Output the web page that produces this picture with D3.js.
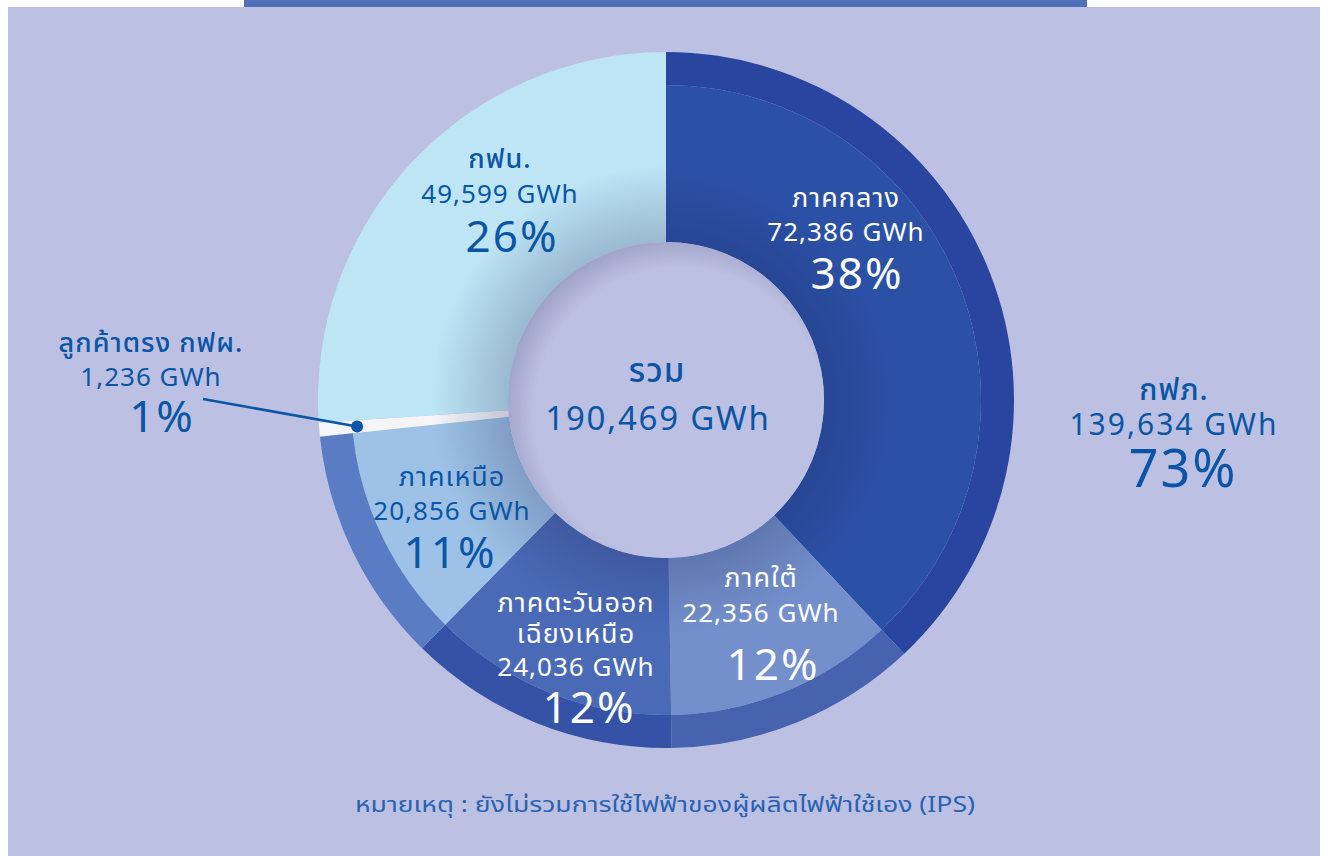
<!DOCTYPE html>
<html>
<head>
<meta charset="utf-8">
<script src="https://cdn.jsdelivr.net/npm/d3@7"></script>
<style>
  body { margin: 0; background: #ffffff; }
  text { font-family: "Noto Sans", "Noto Sans Thai", Tahoma, sans-serif; }
</style>
</head>
<body>
<script>
// data
var regions = ["ภาคกลาง", "ภาคใต้", "ภาคตะวันออกเฉียงเหนือ", "ภาคเหนือ", "ลูกค้าตรง กฟผ.", "กฟน."];
var gwh = [72386, 22356, 24036, 20856, 1236, 49599];
var pct = [38, 12, 12, 11, 1, 26];
var peaName = "กฟภ.", peaGwh = 139634, peaPct = 73;
var totalName = "รวม", totalGwh = 190469;
var note = "หมายเหตุ : ยังไม่รวมการใช้ไฟฟ้าของผู้ผลิตไฟฟ้าใช้เอง (IPS)";

var innerColors = ["#2b51a7", "#7390cc", "#4a6ab8", "#9ec2e7", "#f5f5f8", "#bee5f6"];
var outerColors = ["#2a45a0", "#4763b0", "#3652a6", "#5a7cc4"];

var W = 1328, H = 856;
var cx = 666, cy = 400;
var rHole = 158, rMid = 315, rOut = 348;
var fmt = d3.format(",");

var svg = d3.select("body").append("svg")
    .attr("width", W)
    .attr("height", H);

// page background
svg.append("rect").attr("x", 8).attr("y", 7).attr("width", W - 16).attr("height", H - 7).attr("fill", "#bcc1e3");
svg.append("rect").attr("x", 244).attr("y", 0).attr("width", 843).attr("height", 7).attr("fill", "#4f70b9");

var defs = svg.append("defs");
var grad = defs.append("radialGradient")
    .attr("id", "holeShade")
    .attr("gradientUnits", "userSpaceOnUse")
    .attr("cx", 0).attr("cy", 0).attr("r", 235);
grad.append("stop").attr("offset", rHole / 235).attr("stop-color", "#1a1f50").attr("stop-opacity", 0.22);
grad.append("stop").attr("offset", 1).attr("stop-color", "#1a1f50").attr("stop-opacity", 0);

var holeFill = defs.append("radialGradient")
    .attr("id", "holeFill")
    .attr("gradientUnits", "userSpaceOnUse")
    .attr("cx", 14).attr("cy", 14).attr("r", 178);
holeFill.append("stop").attr("offset", 0.82).attr("stop-color", "#bcc0e2");
holeFill.append("stop").attr("offset", 1).attr("stop-color", "#9fa2c8");

var g = svg.append("g").attr("transform", "translate(" + cx + "," + cy + ")");

var pie = d3.pie().sort(null).value(function (d) { return d; });
var arcs = pie(gwh);

var arcInner = d3.arc().innerRadius(rHole).outerRadius(rMid);
var arcFull = d3.arc().innerRadius(rHole).outerRadius(rOut);
var arcRing = d3.arc().innerRadius(rMid).outerRadius(rOut);

// slices: PEA regions stop at rMid, EGAT and MEA reach the outer edge
g.selectAll("path.slice")
    .data(arcs)
    .enter()
    .append("path")
    .attr("class", "slice")
    .attr("d", function (d, i) { return i < 4 ? arcInner(d) : arcFull(d); })
    .attr("fill", function (d, i) { return innerColors[i]; });

// PEA outer ring
g.selectAll("path.ring")
    .data(arcs.slice(0, 4))
    .enter()
    .append("path")
    .attr("class", "ring")
    .attr("d", arcRing)
    .attr("fill", function (d, i) { return outerColors[i]; });

// soft shadow around the hole
g.append("path")
    .attr("d", d3.arc().innerRadius(rHole).outerRadius(235).startAngle(0).endAngle(2 * Math.PI)())
    .attr("fill", "url(#holeShade)");

g.append("circle").attr("r", rHole).attr("fill", "url(#holeFill)");

// labels
var blue = "#0a55a5";
function label(x, lines, color) {
    var t = svg.append("g").attr("fill", color).attr("text-anchor", "middle");
    lines.forEach(function (l) {
        t.append("text")
            .attr("x", l.x !== undefined ? l.x : x)
            .attr("y", l.y)
            .attr("font-size", l.size)
            .attr("font-weight", l.bold ? 500 : 400)
            .attr("letter-spacing", l.ls || 1)
            .text(l.t);
    });
}

label(500, [
    { t: regions[5], y: 168, size: 27, bold: true },
    { t: fmt(gwh[5]) + " GWh", y: 203, size: 26 },
    { t: pct[5] + "%", y: 252, size: 44, x: 512, ls: 2 }
], blue);

label(846, [
    { t: regions[0], y: 207, size: 27 },
    { t: fmt(gwh[0]) + " GWh", y: 241, size: 26 },
    { t: pct[0] + "%", y: 289, size: 44, x: 857, ls: 2 }
], "#ffffff");

label(761, [
    { t: regions[1], y: 587, size: 27 },
    { t: fmt(gwh[1]) + " GWh", y: 622, size: 26 },
    { t: pct[1] + "%", y: 680, size: 44, x: 773, ls: 2 }
], "#ffffff");

label(576, [
    { t: "ภาคตะวันออก", y: 612, size: 27 },
    { t: "เฉียงเหนือ", y: 643, size: 27 },
    { t: fmt(gwh[2]) + " GWh", y: 676, size: 26 },
    { t: pct[2] + "%", y: 723, size: 44, x: 589, ls: 2 }
], "#ffffff");

label(452, [
    { t: regions[3], y: 486, size: 27 },
    { t: fmt(gwh[3]) + " GWh", y: 520, size: 26 },
    { t: pct[3] + "%", y: 568, size: 44, x: 450, ls: 2 }
], blue);

label(151, [
    { t: regions[4], y: 352, size: 27, bold: true },
    { t: fmt(gwh[4]) + " GWh", y: 386, size: 26 },
    { t: pct[4] + "%", y: 432, size: 44, x: 162, ls: 2 }
], blue);

label(1174, [
    { t: peaName, y: 400, size: 30, bold: true },
    { t: fmt(peaGwh) + " GWh", y: 435, size: 30, ls: 2 },
    { t: peaPct + "%", y: 487, size: 52, x: 1183, ls: 2 }
], blue);

label(658, [
    { t: totalName, y: 382, size: 33, bold: true, x: 657 },
    { t: fmt(totalGwh) + " GWh", y: 430, size: 33, ls: 1.8 }
], blue);

// leader line to the EGAT slice
var egat = arcs[4];
var mid = (egat.startAngle + egat.endAngle) / 2;
var dot = [cx + 310 * Math.sin(mid), cy - 310 * Math.cos(mid)];
svg.append("line")
    .attr("x1", 203).attr("y1", 399)
    .attr("x2", dot[0]).attr("y2", dot[1])
    .attr("stroke", blue).attr("stroke-width", 2.5);
svg.append("circle").attr("cx", dot[0]).attr("cy", dot[1]).attr("r", 6).attr("fill", blue);

// footnote
svg.append("text")
    .attr("x", 665).attr("y", 812)
    .attr("text-anchor", "middle")
    .attr("font-size", 21)
    .attr("fill", "#2a62b2")
    .attr("textLength", 620)
    .attr("lengthAdjust", "spacingAndGlyphs")
    .text(note);
</script>
</body>
</html>
